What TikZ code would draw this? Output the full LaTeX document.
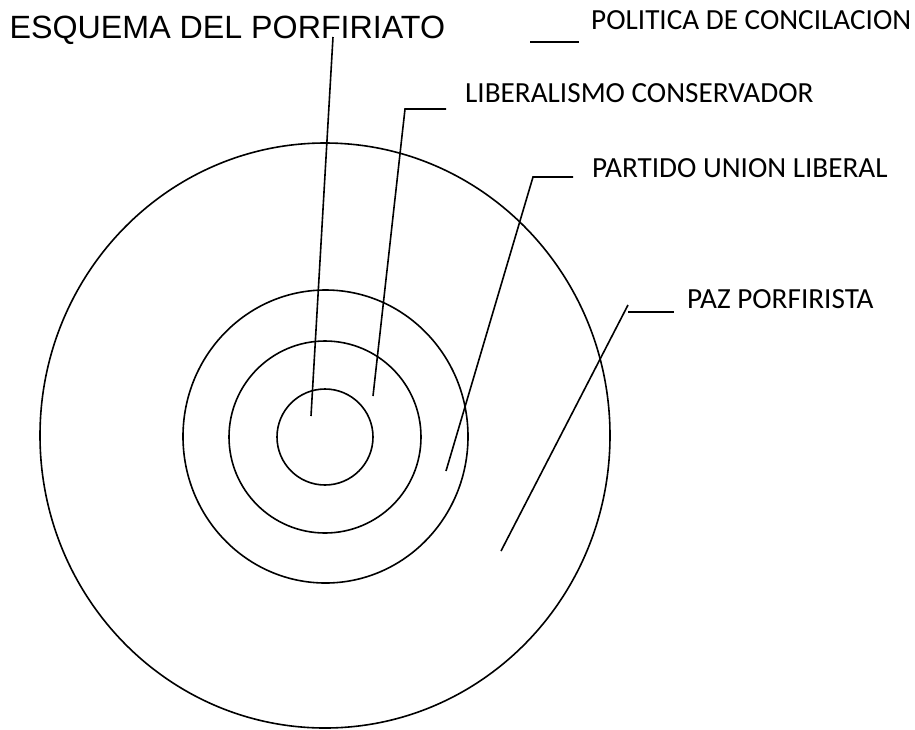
\documentclass[tikz,border=0pt]{standalone}
\usepackage{fontspec}
\setmainfont{Carlito}
\newfontfamily\titlefont{Liberation Sans}
\begin{document}
\begin{tikzpicture}[x=1pt,y=-1pt,
  ring/.style={draw=black,line width=1.6pt},
  leader/.style={draw=black,line width=1.6pt},
  lbl/.style={anchor=base west,inner sep=0pt,font=\fontsize{29.2}{31}\selectfont},
  ttl/.style={anchor=base west,inner sep=0pt,font=\titlefont\fontsize{32.2}{34}\selectfont}]
\useasboundingbox (0,0) rectangle (915,729);
% rings
\draw[ring] (325,435.5) ellipse [x radius=285,y radius=292.5];
\draw[ring] (325.5,436.5) ellipse [x radius=142.5,y radius=146.5];
\draw[ring] (325,437) ellipse [x radius=96,y radius=96];
\draw[ring] (325,437) ellipse [x radius=48,y radius=48];
% texts
\node[ttl] (title) at (9.5,38) {ESQUEMA DEL PORFIRIATO};
\node[lbl] (pol) at (591,29) {POLITICA DE CONCILACION};
\node[lbl] (lib) at (465,102) {LIBERALISMO CONSERVADOR};
\node[lbl] (par) at (592,177) {PARTIDO UNION LIBERAL};
\node[lbl] (paz) at (687,308) {PAZ PORFIRISTA};
% leader points
\coordinate (a0) at (311,416); \coordinate (a1) at (333,37);
\coordinate (b0) at (373,396); \coordinate (b1) at (405,109); \coordinate (b2) at (446,109);
\coordinate (c0) at (446,471); \coordinate (c1) at (533,177); \coordinate (c2) at (573,177);
\coordinate (d0) at (501,551); \coordinate (d1) at (628,305);
\coordinate (d2) at (628,312); \coordinate (d3) at (674,312);
\coordinate (e0) at (530,42); \coordinate (e1) at (579,42);
\draw[leader] (a0) -- (a1);
\draw[leader] (b0) -- (b1) -- (b2);
\draw[leader] (c0) -- (c1) -- (c2);
\draw[leader] (d0) -- (d1);
\draw[leader] (d2) -- (d3);
\draw[leader] (e0) -- (e1);
\end{tikzpicture}
\end{document}
